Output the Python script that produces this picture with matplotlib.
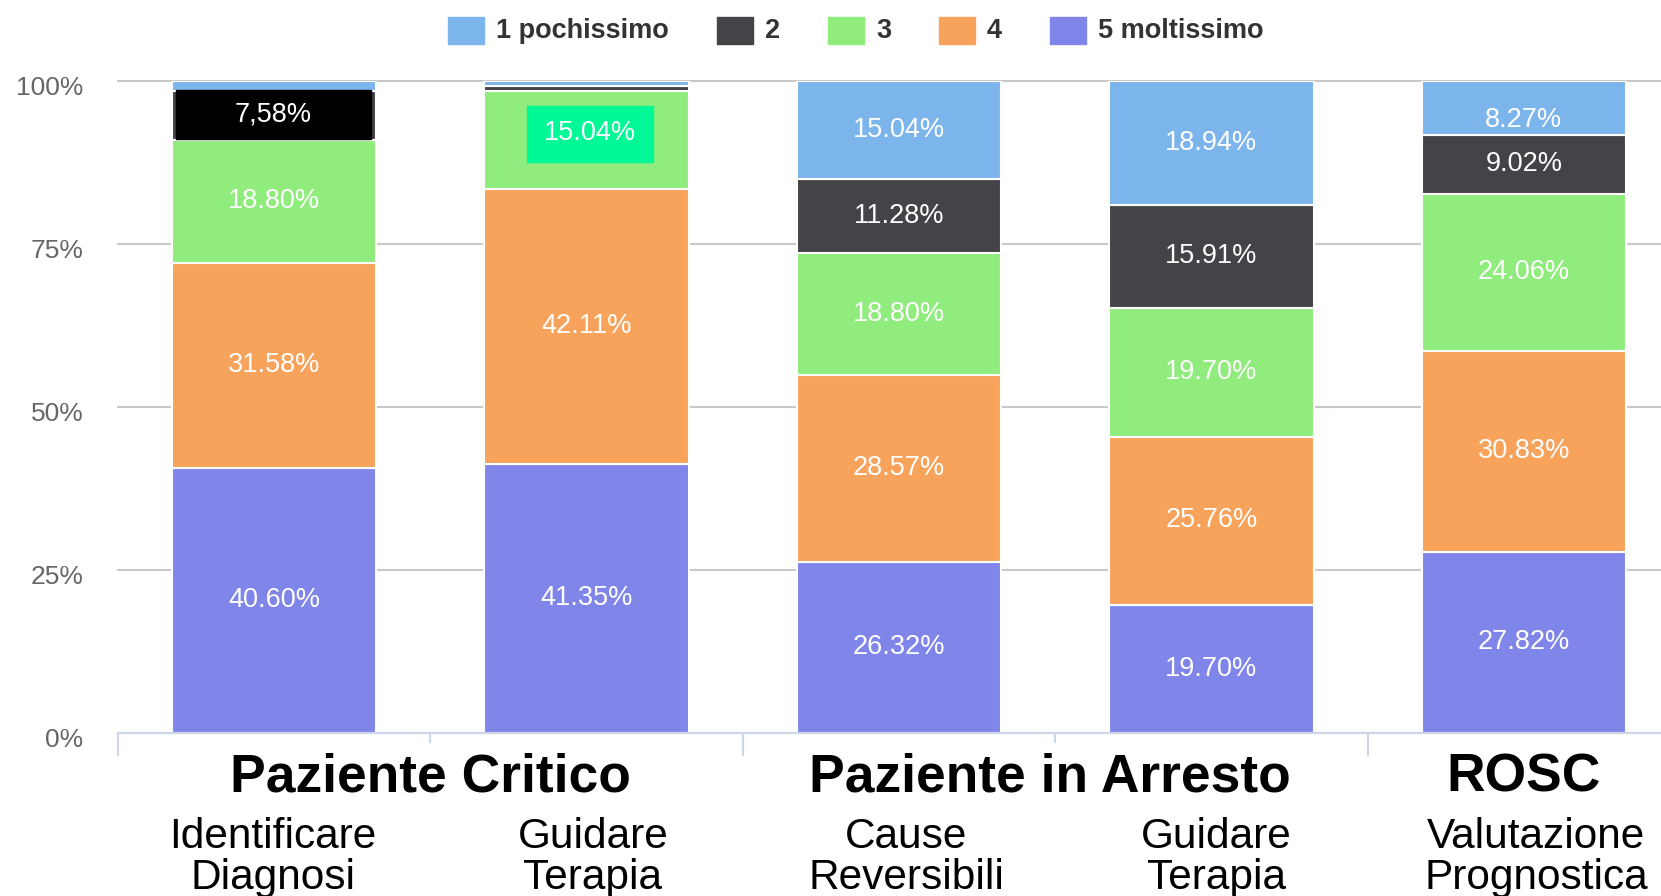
import matplotlib
matplotlib.use('Agg')
import matplotlib.pyplot as plt
import matplotlib.transforms as mtransforms
from matplotlib.patches import Rectangle
import numpy as np

plt.rcParams['font.family'] = ['Liberation Sans', 'DejaVu Sans']

# data
groups = ['Paziente Critico', 'Paziente in Arresto', 'ROSC']
group_members = [[0, 1], [2, 3], [4]]
categories = ['Identificare\nDiagnosi', 'Guidare\nTerapia', 'Cause\nReversibili',
              'Guidare\nTerapia', 'Valutazione\nPrognostica']
series_names = ['1 pochissimo', '2', '3', '4', '5 moltissimo']
s1 = [1.50, 0.75, 15.04, 18.94, 8.27]
s2 = [7.52, 0.75, 11.28, 15.91, 9.02]
s3 = [18.80, 15.04, 18.80, 19.70, 24.06]
s4 = [31.58, 42.11, 28.57, 25.76, 30.83]
s5 = [40.60, 41.35, 26.32, 19.70, 27.82]
series = [s1, s2, s3, s4, s5]
colors = ['#7cb5ec', '#434348', '#90ed7d', '#f7a35c', '#8085e9']
yticks = [0, 25, 50, 75, 100]

# highlighted labels: (bar, series) -> box colour, x0, x1, y0, y1, text
highlights = {
    (0, 1): ('#000000', -0.314, 0.310, 91.1, 98.7, '7,58%'),
    (1, 2): ('#00f896', 0.809, 1.212, 87.7, 96.3, '15.04%'),
}
# label nudges (points) where the original placed them off-centre
label_dy = {(4, 0): -8.2}
label_dx = [-0.004, 0.02, 0.024, 0.015, 0.039]
group_dx = [0, -0.017, 0]

W, H = 1661, 896
fig = plt.figure(figsize=(W / 100, H / 100), dpi=100)
ax = fig.add_axes([118 / W, 163 / H, 1543 / W, 651.5 / H])

x = np.arange(len(categories))
bottom = np.zeros(len(categories))
# stack from "5 moltissimo" at the bottom up to "1 pochissimo"
for k in range(len(series) - 1, -1, -1):
    vals = np.array(series[k])
    ax.bar(x, vals, bottom=bottom, width=0.654, color=colors[k],
           edgecolor='white', linewidth=1.5, zorder=2)
    for i, v in enumerate(vals):
        if (i, k) in highlights:
            c, x0, x1, y0, y1, txt = highlights[(i, k)]
            ax.add_patch(Rectangle((x0, y0), x1 - x0, y1 - y0, color=c, zorder=3))
            ax.annotate(txt, ((x0 + x1) / 2, (y0 + y1) / 2), xytext=(0, 0.5),
                        textcoords='offset points', ha='center', va='center',
                        color='white', fontsize=19.5, zorder=4)
        elif v >= 5:
            ax.annotate(f'{v:.2f}%', (i, bottom[i] + v / 2),
                        xytext=(0, 0.2 + label_dy.get((i, k), 0)),
                        textcoords='offset points', ha='center', va='center',
                        color='white', fontsize=19.5, zorder=4)
    bottom += vals

ax.set_xlim(-0.5, -0.5 + 1543 / 312.4)
ax.set_ylim(0, 100)
ax.set_xticks([])
ax.set_yticks(yticks)
ax.set_yticklabels([f'{t}%' for t in yticks])
ax.tick_params(axis='y', length=0, pad=25, labelsize=19, labelcolor='#666666')
off = mtransforms.ScaledTranslation(0, -0.04, fig.dpi_scale_trans)
for lab in ax.get_yticklabels():
    lab.set_transform(lab.get_transform() + off)
ax.yaxis.grid(True, color='#c8c8c8', linewidth=1.5)
for gl in ax.get_ygridlines():
    gl.set_clip_on(False)
ax.set_axisbelow(True)
for s in ['top', 'right', 'left']:
    ax.spines[s].set_visible(False)
ax.spines['bottom'].set_color('#ccd6eb')
ax.spines['bottom'].set_linewidth(1.5)
ax.spines['bottom'].set_zorder(5)

# category separators below the axis
trans = ax.get_xaxis_transform()
ah = 651.5
for members in group_members:
    ax.plot([members[0] - 0.5] * 2, [0, -22 / ah], transform=trans,
            clip_on=False, color='#ccd6eb', lw=1.5)
    for m in members[1:]:
        ax.plot([m - 0.5] * 2, [0, -9 / ah], transform=trans,
                clip_on=False, color='#ccd6eb', lw=1.5)

# group and category labels
bt = mtransforms.blended_transform_factory(ax.transData, fig.transFigure)
for name, members, dx in zip(groups, group_members, group_dx):
    ax.text(np.mean(members) + dx, 0.1169, name, transform=bt, ha='center',
            va='baseline', fontsize=38.4, fontweight='bold', color='black')
for i, cat in enumerate(categories):
    for j, line in enumerate(cat.split('\n')):
        ax.text(i + label_dx[i], [0.0541, 0.0081][j], line, transform=bt,
                ha='center', va='baseline', fontsize=30.5, color='black')

# legend along the top
renderer = fig.canvas.get_renderer()
lx = 448
for name, c in zip(series_names, colors):
    fig.patches.append(Rectangle((lx / W, 1 - 44 / H), 36 / W, 27 / H,
                                 color=c, transform=fig.transFigure))
    t = fig.text((lx + 48) / W, 1 - 30.5 / H, name, ha='left', va='center',
                 fontsize=19.5, fontweight='bold', color='#333333')
    tw = t.get_window_extent(renderer).width
    lx = lx + 48 + tw + 48

fig.savefig('out.png', dpi=100)
